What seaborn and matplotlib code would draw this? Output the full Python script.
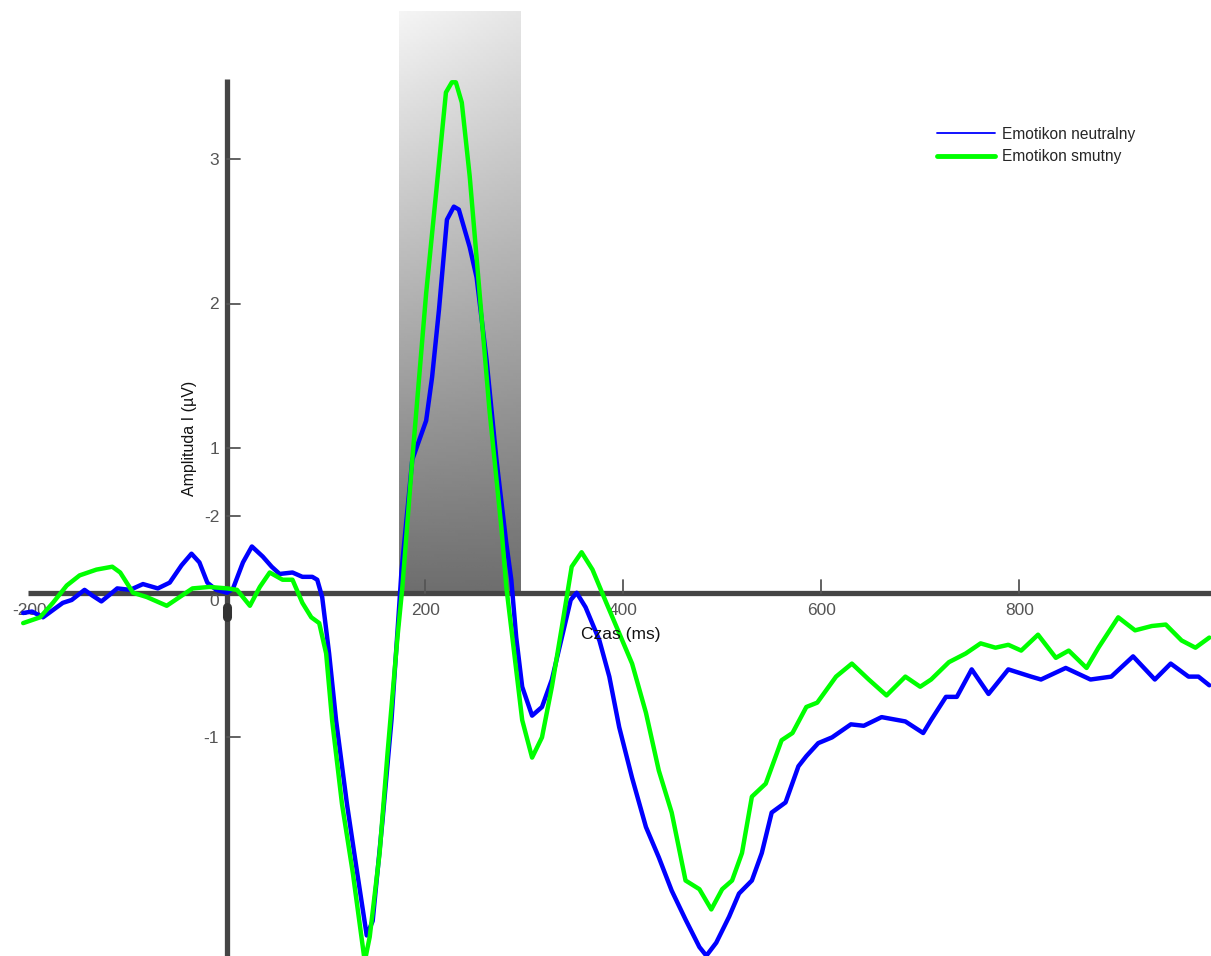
import numpy as np
import pandas as pd
import matplotlib
matplotlib.use("Agg")
import matplotlib.pyplot as plt
from matplotlib.lines import Line2D
import seaborn as sns

# ---- data (time in ms, amplitude in µV) ----
neutral_t = [-206, -197, -186, -176, -166, -157, -144, -136, -127, -118, -111, -98, -85, -70, -58, -46, -36, -28, -20, -11,
             0, 6, 16, 25, 36, 45, 53, 66, 76, 86, 91, 96, 103, 110, 121, 131, 141, 147, 157, 166, 174, 176, 187, 201,
             207, 214, 222, 229, 234, 245, 252, 262, 272, 282, 287, 292, 298, 308, 318, 328, 338, 347, 353, 362, 376,
             386, 396, 409, 423, 436, 449, 463, 477, 484, 494, 507, 517, 530, 540, 550, 564, 577, 585, 597, 611, 630,
             643, 661, 685, 703, 711, 726, 737, 752, 769, 789, 812, 822, 847, 872, 893, 915, 937, 953, 971, 981, 992]
neutral_v = [-0.14, -0.13, -0.17, -0.12, -0.07, -0.05, 0.02, -0.02, -0.06, -0.01, 0.03, 0.02, 0.06, 0.03, 0.07, 0.19, 0.27,
             0.21, 0.07, 0.02, 0.00, 0.03, 0.21, 0.32, 0.25, 0.18, 0.13, 0.14, 0.11, 0.11, 0.09, -0.03, -0.42, -0.88,
             -1.46, -1.92, -2.37, -2.27, -1.57, -0.88, -0.07, 0.14, 0.92, 1.19, 1.49, 1.96, 2.58, 2.67, 2.65, 2.39,
             2.18, 1.61, 0.92, 0.34, 0.09, -0.31, -0.65, -0.85, -0.79, -0.60, -0.31, -0.05, 0.00, -0.10, -0.33, -0.58,
             -0.93, -1.28, -1.62, -1.83, -2.06, -2.26, -2.45, -2.51, -2.42, -2.24, -2.08, -1.99, -1.80, -1.52, -1.45,
             -1.20, -1.13, -1.04, -1.00, -0.91, -0.92, -0.86, -0.89, -0.97, -0.88, -0.72, -0.72, -0.53, -0.70, -0.53,
             -0.58, -0.60, -0.52, -0.60, -0.58, -0.44, -0.60, -0.49, -0.58, -0.58, -0.64]

sad_t = [-206, -189, -176, -162, -149, -132, -116, -108, -95, -81, -61, -48, -35, -18, 0, 10, 23, 33, 43, 56, 66, 76, 85,
         93, 100, 106, 116, 127, 139, 144, 154, 162, 172, 177, 187, 201, 211, 221, 227, 231, 237, 245, 255, 265, 277,
         282, 290, 298, 308, 318, 328, 338, 348, 358, 369, 383, 396, 409, 423, 436, 449, 463, 477, 489, 500, 510, 520,
         530, 544, 560, 571, 585, 596, 615, 631, 648, 666, 685, 700, 711, 729, 746, 761, 776, 789, 802, 819, 837, 850,
         868, 880, 900, 917, 934, 948, 964, 978, 992]
sad_v = [-0.21, -0.17, -0.07, 0.05, 0.12, 0.16, 0.18, 0.14, 0.00, -0.03, -0.09, -0.03, 0.03, 0.04, 0.03, 0.02, -0.09, 0.04,
         0.14, 0.09, 0.09, -0.07, -0.17, -0.21, -0.42, -0.88, -1.46, -1.94, -2.55, -2.38, -1.80, -1.11, -0.31, 0.04,
         0.92, 2.07, 2.76, 3.46, 3.53, 3.53, 3.39, 2.88, 2.07, 1.26, 0.45, 0.04, -0.42, -0.88, -1.14, -1.00, -0.65,
         -0.24, 0.18, 0.28, 0.16, -0.07, -0.28, -0.49, -0.83, -1.23, -1.52, -1.99, -2.05, -2.19, -2.05, -1.99, -1.80,
         -1.41, -1.32, -1.02, -0.97, -0.79, -0.76, -0.58, -0.49, -0.60, -0.71, -0.58, -0.65, -0.60, -0.48, -0.42,
         -0.35, -0.38, -0.36, -0.40, -0.29, -0.45, -0.40, -0.52, -0.38, -0.17, -0.26, -0.23, -0.22, -0.33, -0.38, -0.31]

series_names = ["Emotikon neutralny", "Emotikon smutny"]
x_ticks = [200, 400, 600, 800]
y_ticks = [3, 2, 1, -1]
y_tick_labels = ["3", "2", "1", "-1"]
odd_tick_value = 0.53        # tick on the y axis labelled "-2" in the original
odd_tick_label = "-2"
window = (174, 297)          # shaded analysis window (ms)
window_top = 4.02

df = pd.concat([
    pd.DataFrame({"t": neutral_t, "v": neutral_v, "cond": series_names[0]}),
    pd.DataFrame({"t": sad_t, "v": sad_v, "cond": series_names[1]}),
])

sns.set_style("white")
plt.rcParams["font.family"] = ["Liberation Sans", "DejaVu Sans"]

fig = plt.figure(figsize=(12.11, 9.56), dpi=100)
ax = fig.add_axes([0, 0, 1, 1])
xlim = (-229.4, 993.7)
ylim = (-2.512, 4.099)

# gradient window
ny, nx = 200, 40
yy, xx = np.mgrid[0:1:ny * 1j, 0:1:nx * 1j]
grad = 0.43 + 0.53 * yy - 0.06 * xx * yy
ax.imshow(grad, cmap="gray", vmin=0, vmax=1, origin="lower", aspect="auto",
          extent=[window[0], window[1], 0, window_top], zorder=1, interpolation="bilinear")

axis_col = "#454545"
# axes lines
ax.plot([-201, xlim[1]], [0, 0], color=axis_col, lw=3.8, zorder=2, solid_capstyle="butt")
ax.plot([0, 0], [ylim[0], 3.55], color=axis_col, lw=3.8, zorder=2, solid_capstyle="butt")
ax.plot([0, 0], [-0.10, -0.17], color="#333333", lw=6.5, solid_capstyle="round", zorder=2)

# ticks
tick_col = "#555555"
for xt in x_ticks:
    ax.plot([xt, xt], [0, 0.085], color=tick_col, lw=1.3, zorder=2)
    ax.text(xt, -0.07, str(xt), ha="center", va="top", fontsize=12.5, color=tick_col)
ax.text(-200, -0.07, "-200", ha="center", va="top", fontsize=12.5, color=tick_col)
ax.text(-13, -0.01, "0", ha="center", va="top", fontsize=12.5, color=tick_col)
for yt, lab in zip(y_ticks + [odd_tick_value], y_tick_labels + [odd_tick_label]):
    ax.plot([0, 13], [yt, yt], color=tick_col, lw=1.3, zorder=2)
    ax.text(-8, yt - 0.01, lab, ha="right", va="center", fontsize=12.5, color=tick_col)

# curves
sns.lineplot(data=df, x="t", y="v", hue="cond", palette=["#0000ff", "#00ff00"],
             linewidth=3.2, ax=ax, legend=False, sort=False, estimator=None, zorder=3)

ax.text(-38, 1.07, "Amplituda I (µV)", rotation=90, ha="center", va="center", fontsize=11.5, color="#111111")
ax.text(398, -0.29, "Czas (ms)", ha="center", va="center", fontsize=12.5, color="#111111", zorder=4)

handles = [Line2D([], [], color="#0000ff", lw=1.3), Line2D([], [], color="#00ff00", lw=3.5)]
leg = ax.legend(handles, series_names, loc="upper left", bbox_to_anchor=(0.769, 0.874),
                frameon=False, fontsize=11.2, handlelength=3.7, handletextpad=0.45,
                labelspacing=0.5, borderaxespad=0)

ax.set_xlim(*xlim)
ax.set_ylim(*ylim)
ax.axis("off")
fig.savefig("out.png", dpi=100, facecolor="white")
